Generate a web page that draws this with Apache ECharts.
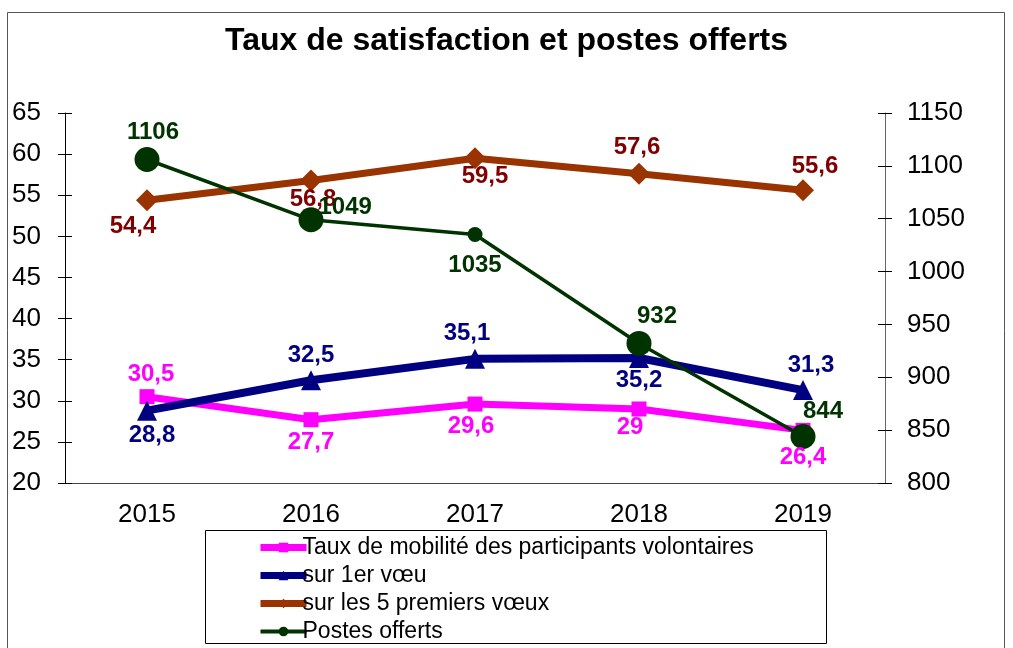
<!DOCTYPE html>
<html>
<head>
<meta charset="utf-8">
<script src="https://cdn.jsdelivr.net/npm/echarts@6/dist/echarts.min.js"></script>
<style>
  html, body { margin: 0; padding: 0; background: #fff; }
  #chart { width: 1013px; height: 648px; }
</style>
</head>
<body>
<div id="chart"></div>
<script>
// data
var years = ['2015', '2016', '2017', '2018', '2019'];
var mobilite = [30.5, 27.7, 29.6, 29, 26.4];
var premierVoeu = [28.8, 32.5, 35.1, 35.2, 31.3];
var cinqVoeux = [54.4, 56.8, 59.5, 57.6, 55.6];
var postes = [1106, 1049, 1035, 932, 844];

var FONT = '"Liberation Sans", Arial, sans-serif';

function virgule(p) {
    return String(p.value).replace('.', ',');
}

// builds per-point label placement
function withLabels(values, places) {
    return values.map(function (v, i) {
        return { value: v, label: { position: places[i][0], offset: places[i][1] } };
    });
}

function labelStyle(color) {
    return {
        show: true,
        formatter: virgule,
        color: color,
        fontFamily: FONT,
        fontWeight: 'bold',
        fontSize: 24
    };
}

var chart = echarts.init(document.getElementById('chart'));

var yLeft = { min: 20, max: 65, interval: 5 };
var yRight = { min: 800, max: 1150, interval: 50 };
var tickFont = { fontFamily: FONT, fontSize: 26, color: '#000' };

var option = {
    animation: false,
    title: {
        text: 'Taux de satisfaction et postes offerts',
        left: 'center',
        top: 20,
        textStyle: { fontFamily: FONT, fontWeight: 'bold', fontSize: 32, color: '#000' }
    },
    grid: { left: 65, right: 128, top: 113, bottom: 165 },
    legend: {
        orient: 'vertical',
        left: 252,
        top: 531,
        itemGap: 5,
        itemWidth: 46,
        itemHeight: 12,
        lineStyle: { width: 7 },
        data: [
            { name: 'Taux de mobilité des participants volontaires' },
            { name: 'sur 1er vœu' },
            { name: 'sur les 5 premiers vœux' },
            { name: 'Postes offerts', lineStyle: { width: 4 } }
        ],
        textStyle: { fontFamily: FONT, fontSize: 23, color: '#000', padding: [0, 0, 0, -9] }
    },
    graphic: [
        { type: 'rect', shape: { x: 7.5, y: 12.5, width: 997, height: 700 },
          style: { fill: 'none', stroke: '#555', lineWidth: 1 }, silent: true },
        { type: 'rect', shape: { x: 205.5, y: 530.5, width: 621, height: 113 },
          style: { fill: 'none', stroke: '#000', lineWidth: 1 }, silent: true }
    ],
    xAxis: {
        type: 'category',
        data: years,
        boundaryGap: true,
        axisLine: { lineStyle: { color: '#444', width: 1 } },
        axisTick: { inside: true, length: 7, lineStyle: { color: '#000' } },
        axisLabel: Object.assign({ margin: 19 }, tickFont)
    },
    yAxis: [
        Object.assign({
            type: 'value', position: 'left',
            splitLine: { show: false },
            axisLine: { show: true, lineStyle: { color: '#000' } },
            axisTick: { show: true, length: 7, lineStyle: { color: '#000' } },
            axisLabel: Object.assign({ margin: 24 }, tickFont)
        }, yLeft),
        Object.assign({
            type: 'value', position: 'right',
            splitLine: { show: false },
            axisLine: { show: true, lineStyle: { color: '#666' } },
            axisTick: { show: true, length: 7, lineStyle: { color: '#000' } },
            axisLabel: Object.assign({ margin: 22, formatter: function (v) { return String(v); } }, tickFont)
        }, yRight),
        // inner halves of the crossing ticks
        Object.assign({
            type: 'value', position: 'left',
            splitLine: { show: false }, axisLabel: { show: false },
            axisLine: { show: false },
            axisTick: { show: true, inside: true, length: 7, lineStyle: { color: '#000' } }
        }, yLeft),
        Object.assign({
            type: 'value', position: 'right',
            splitLine: { show: false }, axisLabel: { show: false },
            axisLine: { show: false },
            axisTick: { show: true, inside: true, length: 7, lineStyle: { color: '#000' } }
        }, yRight)
    ],
    series: [
        {
            name: 'Taux de mobilité des participants volontaires',
            type: 'line',
            yAxisIndex: 0,
            symbol: 'rect',
            symbolSize: 15,
            color: '#FF00FF',
            lineStyle: { width: 7, color: '#FF00FF' },
            itemStyle: { color: '#FF00FF' },
            label: labelStyle('#FF00FF'),
            data: withLabels(mobilite, [
                ['top', [4, 2]], ['bottom', [0, -2]], ['bottom', [-4, -2]],
                ['bottom', [-9, -6]], ['bottom', [0, 2]]
            ])
        },
        {
            name: 'sur 1er vœu',
            type: 'line',
            yAxisIndex: 0,
            symbol: 'triangle',
            symbolSize: 20,
            color: '#000080',
            lineStyle: { width: 8, color: '#000080' },
            itemStyle: { color: '#000080' },
            label: labelStyle('#000080'),
            data: withLabels(premierVoeu, [
                ['bottom', [5, -2]], ['top', [0, 2]], ['top', [-8, 2]],
                ['bottom', [0, -5]], ['top', [8, 2]]
            ])
        },
        {
            name: 'sur les 5 premiers vœux',
            type: 'line',
            yAxisIndex: 0,
            symbol: 'diamond',
            symbolSize: 22,
            color: '#993300',
            lineStyle: { width: 7, color: '#993300' },
            itemStyle: { color: '#993300' },
            label: labelStyle('#800000'),
            data: withLabels(cinqVoeux, [
                ['bottom', [-14, -2]], ['bottom', [2, -9]], ['bottom', [10, -10]],
                ['top', [-2, 2]], ['top', [12, 4]]
            ])
        },
        {
            name: 'Postes offerts',
            type: 'line',
            yAxisIndex: 1,
            symbol: 'circle',
            symbolSize: function (v, p) { return p.dataIndex === 2 ? 15 : 25; },
            color: '#003300',
            lineStyle: { width: 3.5, color: '#003300' },
            itemStyle: { color: '#003300' },
            label: labelStyle('#003300'),
            data: withLabels(postes, [
                ['top', [6, 2]], ['right', [-10, -12]], ['bottom', [0, 6]],
                ['top', [18, 2]], ['top', [20, 4]]
            ])
        }
    ]
};

chart.setOption(option);
</script>
</body>
</html>
